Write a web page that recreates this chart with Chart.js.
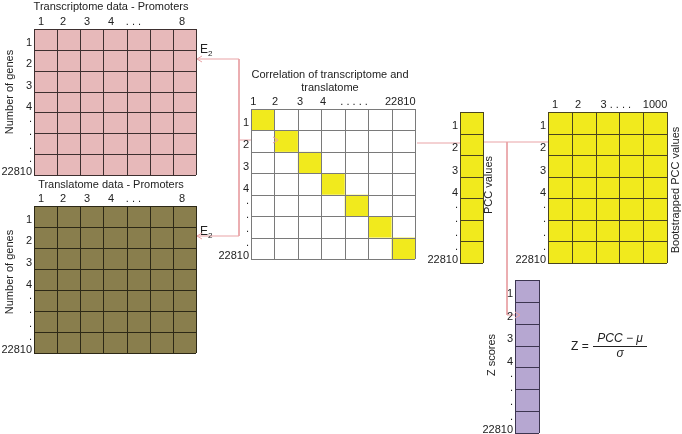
<!DOCTYPE html>
<html>
<head>
<meta charset="utf-8">
<script src="https://cdn.jsdelivr.net/npm/chart.js@4/dist/chart.umd.min.js"></script>
<style>
  html, body { margin: 0; padding: 0; background: #fff; }
  #wrap { width: 682px; height: 434px; }
</style>
</head>
<body>
<div id="wrap"><canvas id="diagram" width="682" height="434"></canvas></div>
<script>
// labels
const promoterCols = ['1', '2', '3', '4', '. . .', '8'];
const geneRows = ['1', '2', '3', '4', '.', '.', '.', '.', '22810'];
const corrCols = ['1', '2', '3', '4', '. . . . .', '22810'];
const bootCols = ['1', '2', '3 . . . .', '1000'];
const diagCells = [0, 1, 2, 3, 4, 5, 6];

// where the labels sit, in cell units
const promoterColPos = [0.3, 1.26, 2.29, 3.33, 4.3, 6.4];
const corrColPos = [0.1, 1.03, 2.09, 3.08, 4.4, 6.37];
const bootColPos = [0.3, 1.26, 2.85, 4.5];
const rowPos = [0.66, 1.68, 2.72, 3.74, 4.3, 4.95, 5.6, 6.25, 6.85];

const FONT = '"Liberation Sans", Arial, sans-serif';
const PINK = '#e9a3a6';

const matrices = [
  { x: 34, y: 29, w: 162, h: 146, cols: 7, rows: 7, fill: '#e7b9ba', line: '#3d2f2f',
    colLabels: promoterCols, colPos: promoterColPos, rowLabels: geneRows, title: ['Transcriptome data - Promoters'], titleX: 111, titleY: 7 },
  { x: 34, y: 206, w: 162, h: 147, cols: 7, rows: 7, fill: '#897e4d', line: '#2c2816',
    colLabels: promoterCols, colPos: promoterColPos, rowLabels: geneRows, title: ['Translatome data - Promoters'], titleX: 111, titleY: 185 },
  { x: 251, y: 109, w: 164, h: 150, cols: 7, rows: 7, fill: '#ffffff', line: '#7a7a7a', diag: '#f1ea1d',
    colLabels: corrCols, colPos: corrColPos, rowLabels: geneRows, title: ['Correlation of transcriptome and', 'translatome'], titleX: 330, titleY: 75 },
  { x: 460, y: 112, w: 23, h: 151, cols: 1, rows: 7, fill: '#f1ea1d', line: '#4a4520',
    rowLabels: geneRows },
  { x: 548, y: 112, w: 119, h: 151, cols: 5, rows: 7, fill: '#f1ea1d', line: '#4a4520',
    colLabels: bootCols, colPos: bootColPos, rowLabels: geneRows },
  { x: 515, y: 280, w: 24, h: 153, cols: 1, rows: 7, fill: '#b6a7d1', line: '#3c3550',
    rowLabels: geneRows }
];

const sideTitles = [
  { text: 'Number of genes', x: 10, y: 92 },
  { text: 'Number of genes', x: 10, y: 272 },
  { text: 'PCC values', x: 489, y: 185 },
  { text: 'Bootstrapped PCC values', x: 676, y: 190 },
  { text: 'Z scores', x: 492, y: 355 }
];

// pink connector paths
const connectors = [
  [{ x: 197, y: 59 }, { x: 239, y: 59 }, { x: 239, y: 236 }, { x: 197, y: 236 }],
  [{ x: 239, y: 140 }, { x: 278, y: 140 }],
  [{ x: 417, y: 143 }, { x: 460, y: 143 }],
  [{ x: 483, y: 142 }, { x: 548, y: 142 }],
  [{ x: 507, y: 142 }, { x: 507, y: 315 }, { x: 520, y: 315 }]
];
const arrowHeads = [
  { x: 197, y: 59, dir: -1 },
  { x: 197, y: 236, dir: -1 },
  { x: 278, y: 140, dir: 1 },
  { x: 520, y: 315, dir: 1 }
];

const crisp = v => Math.round(v) + 0.5;

const diagramPlugin = {
  id: 'diagramPlugin',
  afterDatasetsDraw(chart) {
    const { ctx, scales: { x, y } } = chart;
    const px = v => x.getPixelForValue(v);
    const py = v => y.getPixelForValue(v);
    ctx.save();

    matrices.forEach(m => {
      const x0 = px(m.x), x1 = px(m.x + m.w), y0 = py(m.y), y1 = py(m.y + m.h);
      const cw = (x1 - x0) / m.cols, ch = (y1 - y0) / m.rows;
      ctx.fillStyle = m.fill;
      ctx.fillRect(x0, y0, x1 - x0, y1 - y0);
      if (m.diag) {
        ctx.fillStyle = m.diag;
        diagCells.forEach(i => ctx.fillRect(x0 + i * cw, y0 + i * ch, cw, ch));
      }
      ctx.strokeStyle = m.line;
      ctx.lineWidth = 1;
      ctx.beginPath();
      for (let i = 0; i <= m.cols; i++) {
        const gx = crisp(x0 + i * cw);
        ctx.moveTo(gx, y0);
        ctx.lineTo(gx, y1);
      }
      for (let j = 0; j <= m.rows; j++) {
        const gy = crisp(y0 + j * ch);
        ctx.moveTo(x0, gy);
        ctx.lineTo(x1, gy);
      }
      ctx.stroke();

      ctx.fillStyle = '#222';
      ctx.font = '11px ' + FONT;
      if (m.colLabels) {
        ctx.textAlign = 'center';
        ctx.textBaseline = 'alphabetic';
        m.colLabels.forEach((t, i) => ctx.fillText(t, x0 + m.colPos[i] * cw, y0 - 4));
      }
      ctx.textAlign = 'right';
      ctx.textBaseline = 'middle';
      m.rowLabels.forEach((t, i) => ctx.fillText(t, x0 - 2, y0 + rowPos[i] * ch));
      if (m.title) {
        ctx.textAlign = 'center';
        m.title.forEach((t, i) => ctx.fillText(t, px(m.titleX), py(m.titleY + i * 13)));
      }
    });

    // E2 labels
    ctx.textAlign = 'left';
    ctx.textBaseline = 'middle';
    [50, 232].forEach(ly => {
      ctx.font = '12px ' + FONT;
      ctx.fillText('E', px(200), py(ly));
      ctx.font = '8px ' + FONT;
      ctx.fillText('2', px(208), py(ly + 4));
    });

    // rotated side titles
    ctx.font = '11px ' + FONT;
    ctx.textAlign = 'center';
    sideTitles.forEach(s => {
      ctx.save();
      ctx.translate(px(s.x), py(s.y));
      ctx.rotate(-Math.PI / 2);
      ctx.fillText(s.text, 0, 0);
      ctx.restore();
    });

    // arrow heads
    ctx.strokeStyle = PINK;
    ctx.lineWidth = 1;
    arrowHeads.forEach(a => {
      const ax = px(a.x), ay = py(a.y);
      ctx.beginPath();
      ctx.moveTo(ax - a.dir * 5, ay - 3);
      ctx.lineTo(ax, ay);
      ctx.lineTo(ax - a.dir * 5, ay + 3);
      ctx.stroke();
    });

    // formula
    ctx.fillStyle = '#222';
    ctx.textBaseline = 'middle';
    ctx.textAlign = 'left';
    ctx.font = '12px ' + FONT;
    ctx.fillText('Z =', px(571), py(347));
    ctx.textAlign = 'center';
    ctx.font = 'italic 12px ' + FONT;
    ctx.fillText('PCC \u2212 \u03bc', px(620), py(339));
    ctx.fillText('\u03c3', px(620), py(354));
    ctx.strokeStyle = '#222';
    ctx.lineWidth = 1;
    ctx.beginPath();
    ctx.moveTo(px(593), py(346.5));
    ctx.lineTo(px(647), py(346.5));
    ctx.stroke();

    ctx.restore();
  }
};

new Chart(document.getElementById('diagram'), {
  type: 'line',
  data: {
    datasets: connectors.map(path => ({
      data: path,
      borderColor: PINK,
      borderWidth: 1,
      pointRadius: 0,
      tension: 0,
      fill: false
    }))
  },
  options: {
    responsive: false,
    animation: false,
    layout: { padding: 0 },
    plugins: { legend: { display: false }, tooltip: { enabled: false } },
    scales: {
      x: { type: 'linear', min: 0, max: 682, display: false },
      y: { type: 'linear', min: 0, max: 434, reverse: true, display: false }
    }
  },
  plugins: [diagramPlugin]
});
</script>
</body>
</html>
